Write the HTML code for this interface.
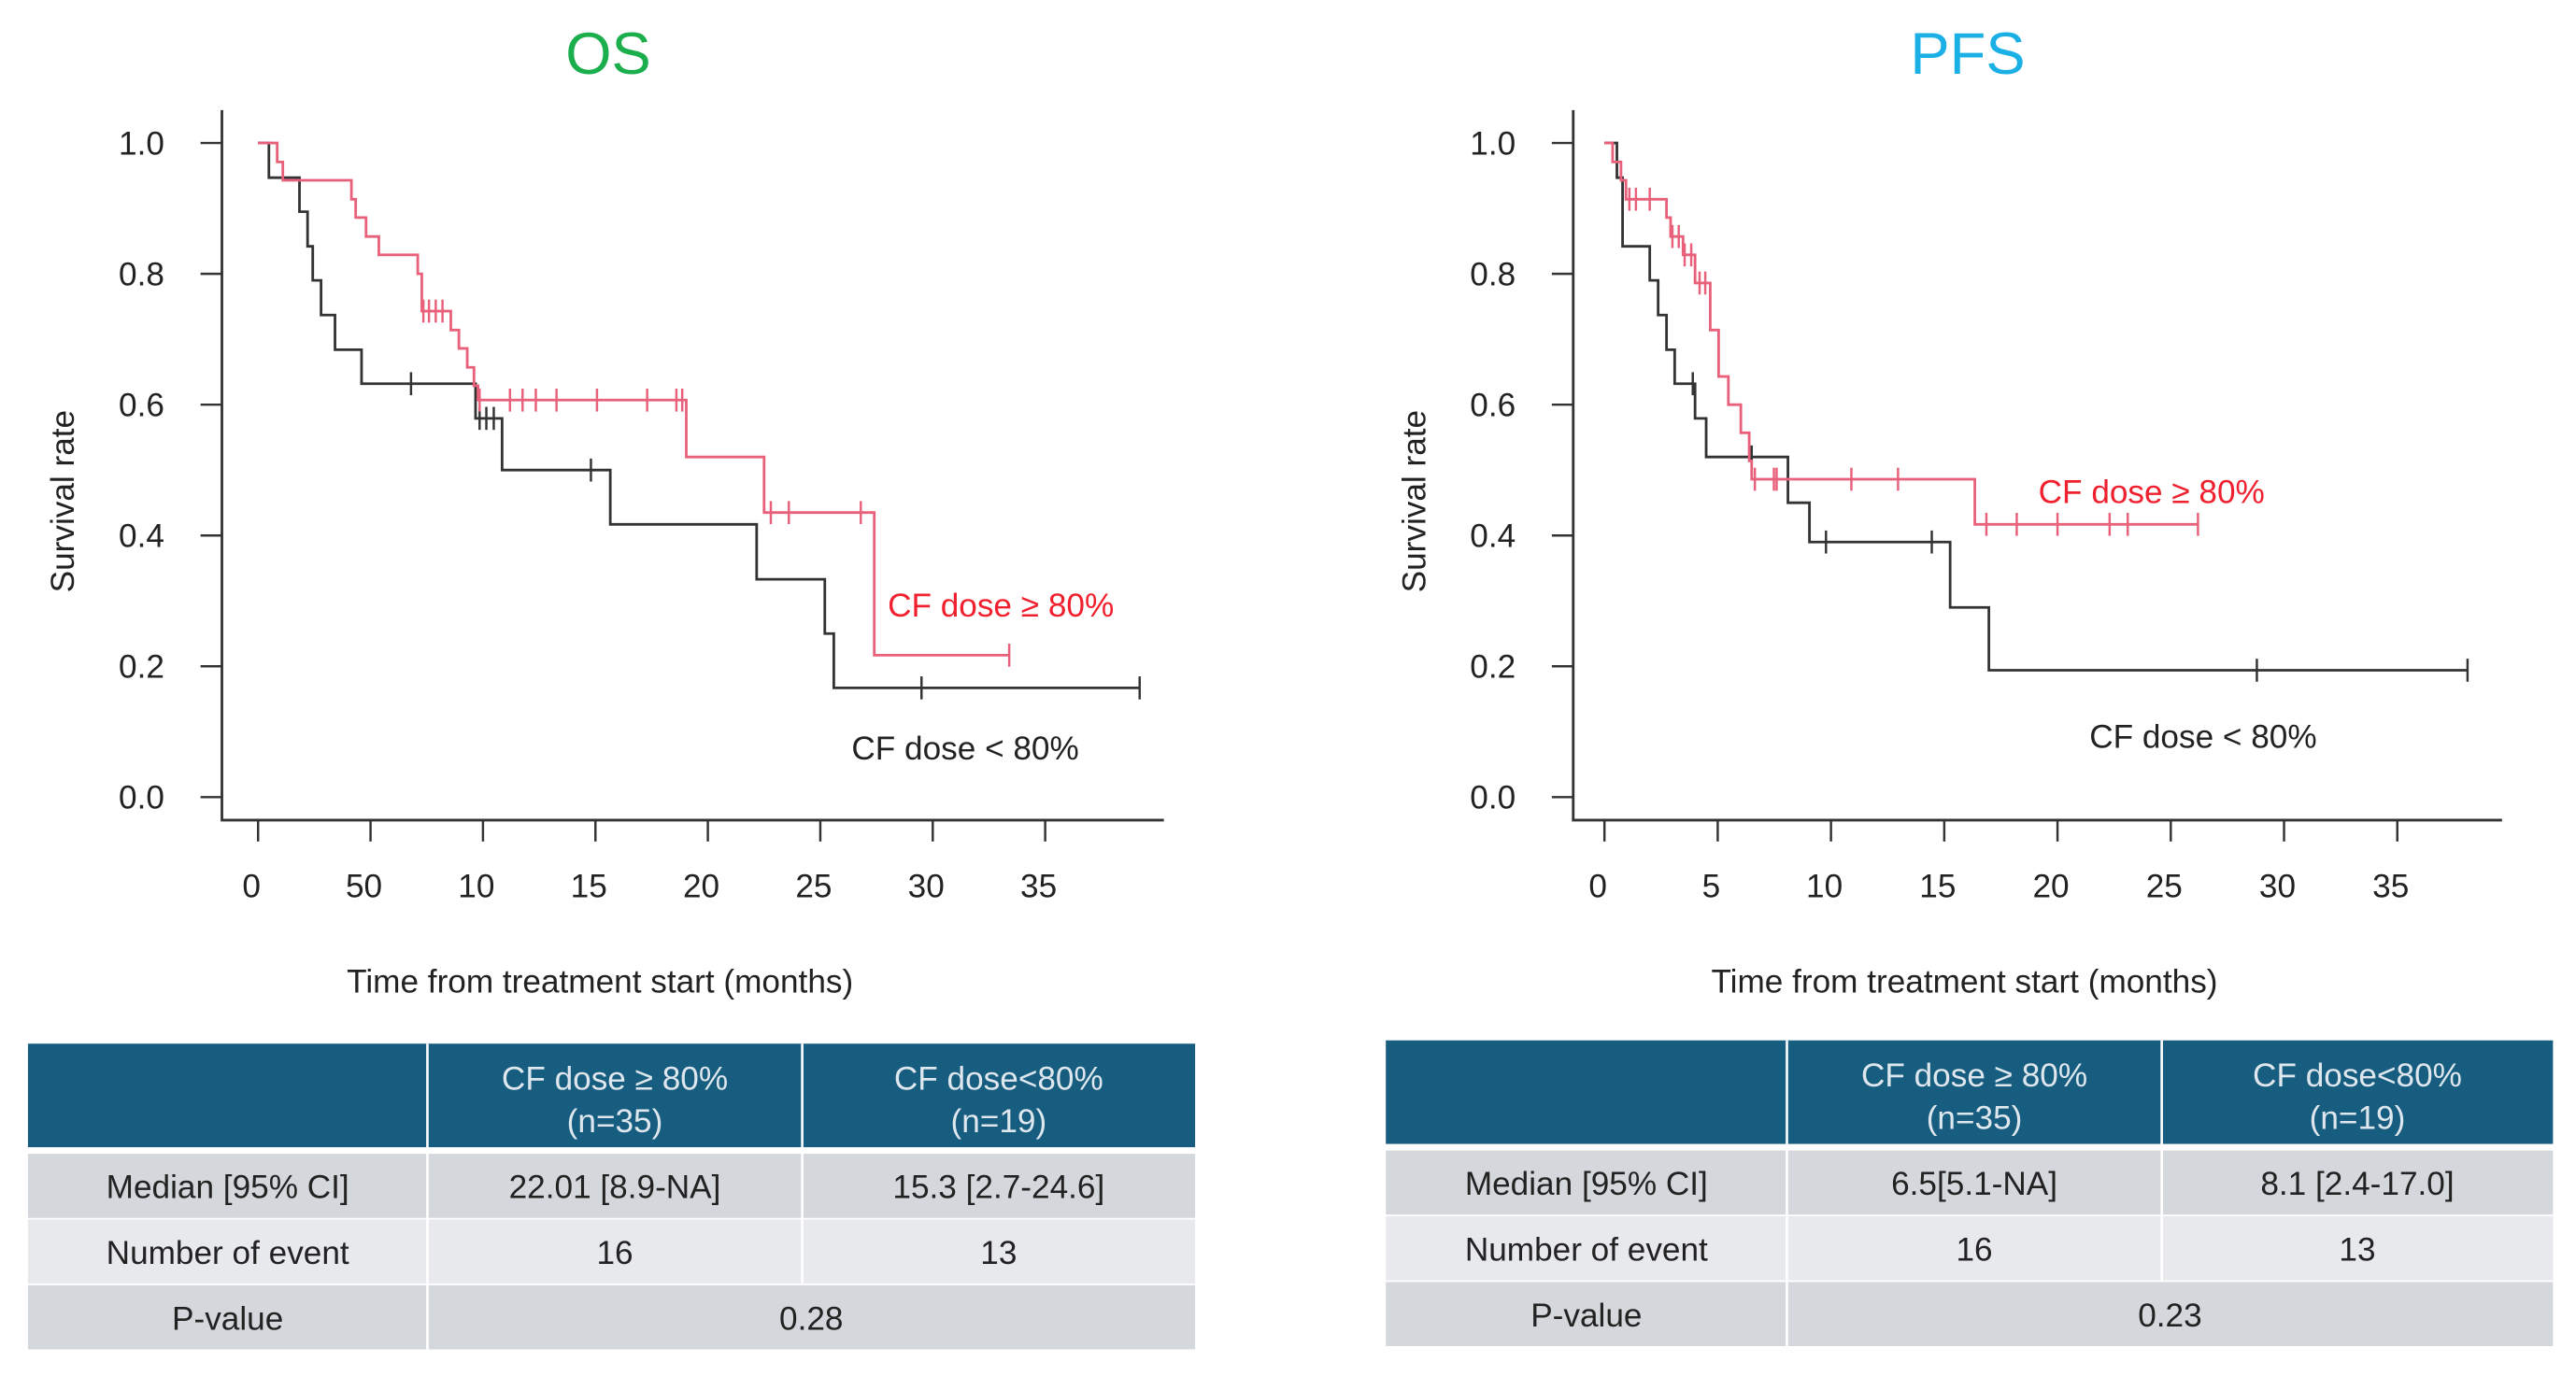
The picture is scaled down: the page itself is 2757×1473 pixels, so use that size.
<!DOCTYPE html>
<html><head><meta charset="utf-8">
<style>
html,body{margin:0;padding:0;background:#fff;}
svg{display:block;font-family:"Liberation Sans",sans-serif;}
</style></head>
<body>
<svg id="fig" width="2757" height="1473" viewBox="0 0 1567 837.2" preserveAspectRatio="none" xmlns="http://www.w3.org/2000/svg">
<rect width="1567" height="837.2" fill="#fff"/>
<text x="370" y="45" font-size="36" fill="#1aae4c" text-anchor="middle">OS</text>
<text x="1197" y="45" font-size="36" fill="#1ab0e6" text-anchor="middle">PFS</text>
<g id="os"></g>
<g id="pfs"></g>
<g id="tables"></g>
</svg>
<script>
// ---- data ----
const yTicks = [0, 0.2, 0.4, 0.6, 0.8, 1.0];
const yTickLabels = ["0.0", "0.2", "0.4", "0.6", "0.8", "1.0"];
const xTicks = [0, 5, 10, 15, 20, 25, 30, 35];
const osXTickLabels = ["0", "50", "10", "15", "20", "25", "30", "35"];
const pfsXTickLabels = ["0", "5", "10", "15", "20", "25", "30", "35"];

const osHighTimes = [0, 0.85, 1.1, 4.15, 4.34, 4.8, 5.37, 7.1, 7.28, 8.57, 8.93, 9.3, 9.6, 9.78, 19.04, 22.5, 27.4];
const osHighSurv  = [1, 0.971, 0.943, 0.914, 0.886, 0.857, 0.829, 0.8, 0.743, 0.714, 0.686, 0.657, 0.629, 0.607, 0.52, 0.435, 0.217];
const osHighCens  = [7.35, 7.6, 7.9, 8.2, 9.85, 11.2, 11.76, 12.35, 13.27, 15.07, 17.3, 18.6, 18.86, 22.8, 23.6, 26.8, 33.4];
const osHighEnd = 33.4;

const osLowTimes = [0, 0.48, 1.84, 2.2, 2.43, 2.8, 3.42, 4.6, 9.67, 10.85, 15.66, 22.17, 25.2, 25.6];
const osLowSurv  = [1, 0.947, 0.895, 0.842, 0.79, 0.737, 0.684, 0.632, 0.579, 0.5, 0.417, 0.333, 0.25, 0.167];
const osLowCens  = [6.8, 9.85, 10.15, 10.48, 14.8, 29.5, 39.2];
const osLowEnd = 39.2;

const pfsHighTimes = [0, 0.36, 0.73, 0.95, 2.74, 2.92, 3.47, 4.0, 4.67, 5.04, 5.47, 6.02, 6.39, 6.5, 16.35];
const pfsHighSurv  = [1, 0.971, 0.943, 0.914, 0.886, 0.857, 0.829, 0.786, 0.714, 0.643, 0.6, 0.557, 0.514, 0.486, 0.417];
const pfsHighCens  = [1.1, 1.39, 2.0, 3.0, 3.28, 3.54, 3.83, 4.2, 4.45, 6.64, 7.48, 7.6, 10.9, 12.96, 16.86, 18.2, 20, 22.3, 23.1, 26.2];
const pfsHighEnd = 26.2;

const pfsLowTimes = [0, 0.55, 0.8, 2.0, 2.37, 2.74, 3.1, 4.0, 4.49, 8.1, 9.05, 15.26, 16.97];
const pfsLowSurv  = [1, 0.947, 0.842, 0.79, 0.737, 0.684, 0.632, 0.579, 0.52, 0.45, 0.39, 0.29, 0.194];
const pfsLowCens  = [3.9, 6.5, 9.78, 14.45, 28.8, 38.1];
const pfsLowEnd = 38.1;

const NS = "http://www.w3.org/2000/svg";
function mk(parent, tag, attrs, txt) {
  const e = document.createElementNS(NS, tag);
  for (const k in attrs) e.setAttribute(k, attrs[k]);
  if (txt !== undefined) e.textContent = txt;
  parent.appendChild(e);
  return e;
}

function drawChart(gid, cfg) {
  const g = document.getElementById(gid);
  const xs = t => cfg.x0 + cfg.kx * t;
  const ys = v => 485 - 398 * v;
  let e;
  e = mk(g, "path", {d: `M${cfg.ax},67 V499 H${cfg.axEnd}`, fill: "none", stroke: "#333", "stroke-width": 1.6});
  
  
  yTicks.forEach((v, i) => {
    e = mk(g, "line", {x1: cfg.ax - 13, x2: cfg.ax, y1: ys(v), y2: ys(v), stroke: "#333", "stroke-width": 1.4});
    
    
    e = mk(g, "text", {x: cfg.ax - 35, y: ys(v) + 7, "font-size": 20, fill: "#222", "text-anchor": "end"}, yTickLabels[i]);
    
    
  });
  xTicks.forEach((t, i) => {
    e = mk(g, "line", {x1: xs(t), x2: xs(t), y1: 499, y2: 512, stroke: "#333", "stroke-width": 1.4});
    
    
    e = mk(g, "text", {x: xs(t) - 4, y: 546, "font-size": 20, fill: "#222", "text-anchor": "middle"}, cfg.xLabels[i]);
    
    
  });
  e = mk(g, "text", {x: cfg.ax - 90, y: 305, "font-size": 20, fill: "#222", "text-anchor": "middle", transform: `rotate(-90 ${cfg.ax - 90} 305)`}, "Survival  rate");
  
  
  e = mk(g, "text", {x: cfg.xtX, y: 604, "font-size": 20, fill: "#222", "text-anchor": "middle"}, cfg.xTitle);
  
  

  cfg.series.forEach(s => {
    let d = `M${xs(s.times[0])},${ys(s.surv[0])}`;
    for (let i = 1; i < s.times.length; i++) {
      d += ` H${xs(s.times[i])} V${ys(s.surv[i])}`;
    }
    d += ` H${xs(s.end)}`;
    e = mk(g, "path", {d, fill: "none", stroke: s.color, "stroke-width": 1.6});
    
    
    s.cens.forEach(t => {
      let v = s.surv[0];
      for (let i = 0; i < s.times.length; i++) if (s.times[i] <= t) v = s.surv[i];
      e = mk(g, "line", {x1: xs(t), x2: xs(t), y1: ys(v) - 7, y2: ys(v) + 7, stroke: s.color, "stroke-width": 1.4});
      
      
    });
    e = mk(g, "text", {x: s.lx, y: s.ly, "font-size": 20, fill: s.tcolor}, s.label);
    
    
  });
}

drawChart("os", {x0: 157, kx: 13.68, ax: 135, axEnd: 708, xLabels: osXTickLabels, xtX: 365, xTitle: "Time from treatment  start  (months)",
  series: [
    {name: "os-low", times: osLowTimes, surv: osLowSurv, cens: osLowCens, end: osLowEnd, color: "#333", tcolor: "#222", label: "CF dose < 80%", lx: 518, ly: 462},
    {name: "os-high", times: osHighTimes, surv: osHighSurv, cens: osHighCens, end: osHighEnd, color: "#e8607a", tcolor: "#f0202e", label: "CF dose \u2265 80%", lx: 540, ly: 375}
  ]});
drawChart("pfs", {x0: 976, kx: 13.78, ax: 957, axEnd: 1522, xLabels: pfsXTickLabels, xtX: 1195, xTitle: "Time from treatment  start  (months)",
  series: [
    {name: "pfs-low", times: pfsLowTimes, surv: pfsLowSurv, cens: pfsLowCens, end: pfsLowEnd, color: "#333", tcolor: "#222", label: "CF dose < 80%", lx: 1271, ly: 455},
    {name: "pfs-high", times: pfsHighTimes, surv: pfsHighSurv, cens: pfsHighCens, end: pfsHighEnd, color: "#e8607a", tcolor: "#f0202e", label: "CF dose \u2265 80%", lx: 1240, ly: 306}
  ]});

// ---- tables ----
function drawTable(name, x0, c1, c2, x3, top, rows) {
  const g = document.getElementById("tables");
  const tg = mk(g, "g", {});
  
  
  let e;
  e = mk(tg, "rect", {x: x0, y: top, width: x3 - x0, height: 63, fill: "#175d7f"});
  
  
  const hc = [(c1 + c2) / 2, (c2 + x3) / 2];
  [["CF dose \u2265 80%", "(n=35)"], ["CF dose<80%", "(n=19)"]].forEach((h, i) => {
    e = mk(tg, "text", {x: hc[i], y: top + 28, "font-size": 20, fill: "#dfe7ee", "text-anchor": "middle"}, h[0]);
    
    
    e = mk(tg, "text", {x: hc[i], y: top + 54, "font-size": 20, fill: "#dfe7ee", "text-anchor": "middle"}, h[1]);
    
    
  });
  const fills = ["#d4d7dc", "#e7e9ed", "#d4d7dc"];
  let y = top + 67;
  rows.forEach((r, i) => {
    e = mk(tg, "rect", {x: x0, y, width: x3 - x0, height: 39, fill: fills[i]});
    
    
    e = mk(tg, "text", {x: (x0 + c1) / 2, y: y + 27, "font-size": 20, fill: "#222", "text-anchor": "middle"}, r[0]);
    
    
    if (r.length === 2) {
      e = mk(tg, "text", {x: (c1 + x3) / 2, y: y + 27, "font-size": 20, fill: "#222", "text-anchor": "middle"}, r[1]);
      
      
    } else {
      [r[1], r[2]].forEach((v, j) => {
        e = mk(tg, "text", {x: hc[j], y: y + 27, "font-size": 20, fill: "#222", "text-anchor": "middle"}, v);
        
        
      });
    }
    y += 40;
  });
  e = mk(tg, "line", {x1: c1, x2: c1, y1: top, y2: y - 1, stroke: "#fff", "stroke-width": 1.5});
  
  
  e = mk(tg, "line", {x1: c2, x2: c2, y1: top, y2: top + 146, stroke: "#fff", "stroke-width": 1.5});
  
  
}
drawTable("os-table", 17, 260, 488, 727, 635, [
  ["Median [95% CI]", "22.01 [8.9-NA]", "15.3 [2.7-24.6]"],
  ["Number of event", "16", "13"],
  ["P-value", "0.28"]
]);
drawTable("pfs-table", 843, 1087, 1315, 1553, 633, [
  ["Median [95% CI]", "6.5[5.1-NA]", "8.1 [2.4-17.0]"],
  ["Number of event", "16", "13"],
  ["P-value", "0.23"]
]);
</script>
</body></html>
